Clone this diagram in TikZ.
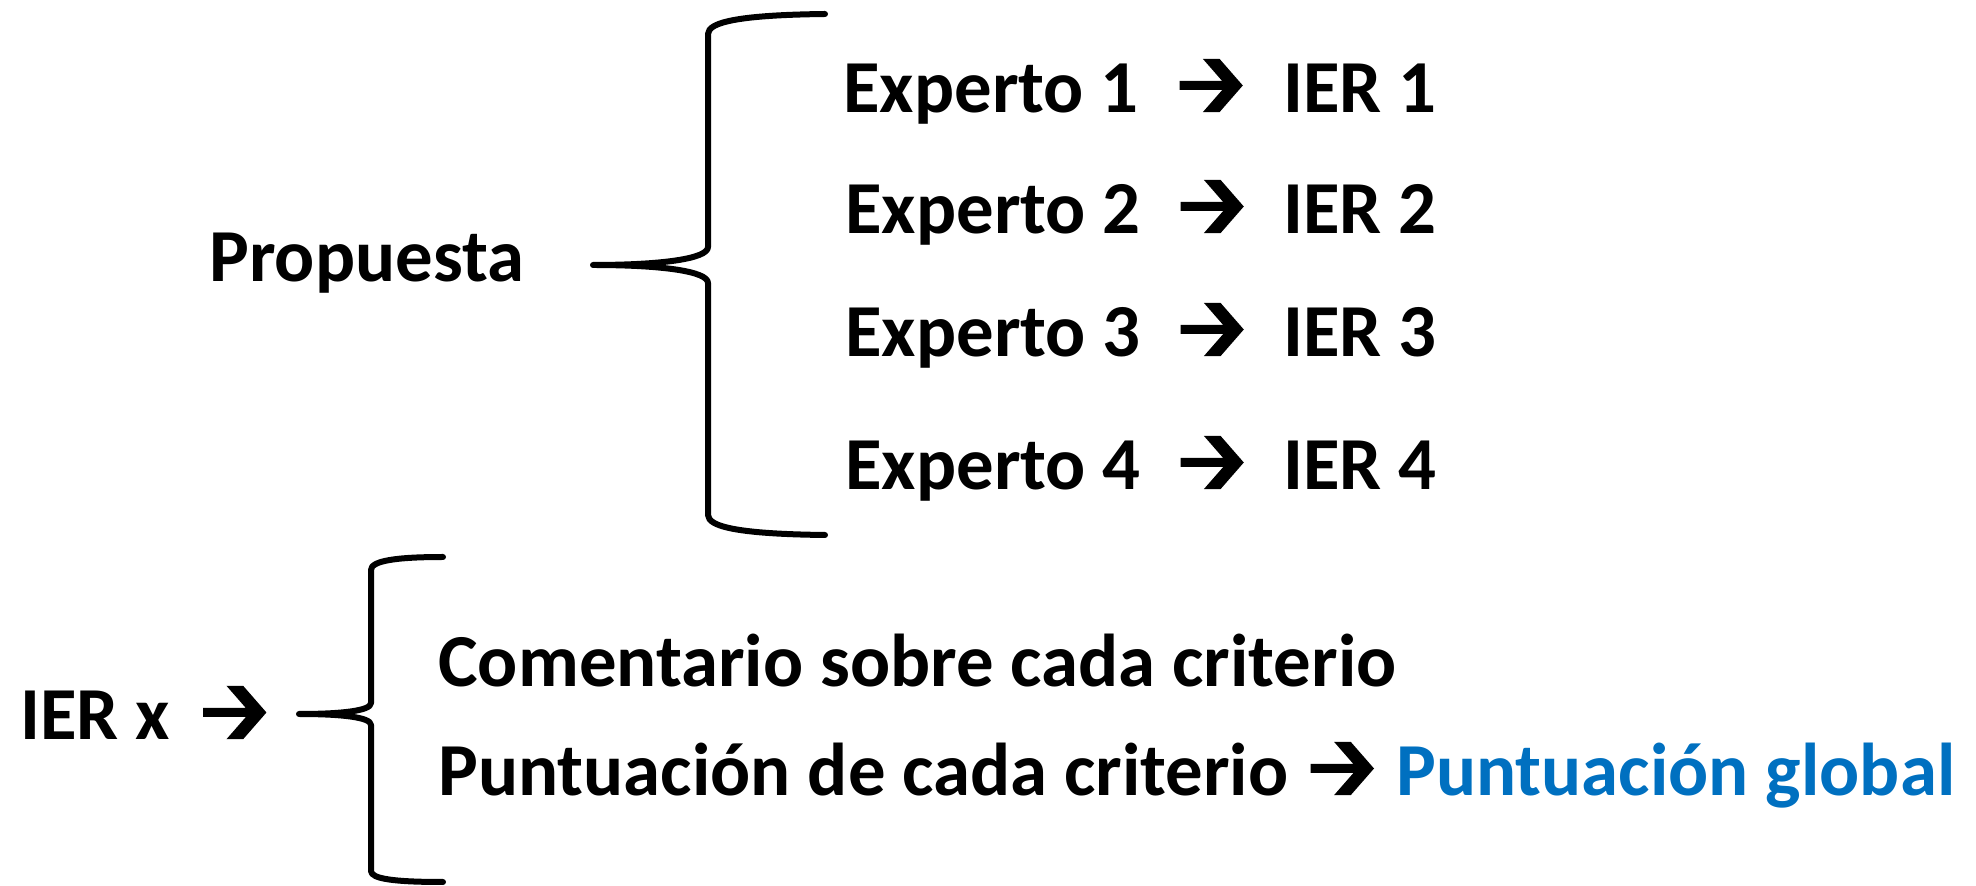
\documentclass[tikz,border=0pt]{standalone}
\usepackage{fontspec}
\setmainfont{Carlito}
\usetikzlibrary{calc}
\definecolor{gblue}{RGB}{0,112,192}
\tikzset{
  txt/.style={inner sep=0pt, anchor=base west, font=\bfseries\fontsize{37.4}{44}\selectfont},
  bracepath/.style={line width=3pt, line cap=round, line join=round},
  warrow/.pic={\fill (-31.65,4.5) -- (11.05,4.5) -- (-8.35,26.7) -- (8.35,26.7) -- (31.65,0) -- (8.35,-26.7) -- (-8.35,-26.7) -- (11.05,-4.5) -- (-31.65,-4.5) -- cycle;}
}
\begin{document}
\begin{tikzpicture}[x=0.5pt,y=-0.5pt]
\useasboundingbox (0,0) rectangle (1976,886);
% top group
\node[txt] (prop) at (209,282) {Propuesta};
\node[txt] (e1) at (843,113) {Experto 1};
\node[txt] (i1) at (1283,113) {IER 1};
\node[txt] (e2) at (845,234) {Experto 2};
\node[txt] (i2) at (1283,234) {IER 2};
\node[txt] (e3) at (845,357) {Experto 3};
\node[txt] (i3) at (1283,357) {IER 3};
\node[txt] (e4) at (845,490) {Experto 4};
\node[txt] (i4) at (1283,490) {IER 4};
\foreach \a/\b in {e1/i1,e2/i2,e3/i3,e4/i4}
  \pic at ($($(\a.base east)!0.5!(\b.base west)$)+(0,-27.5)$) {warrow};
% brace 1
\coordinate (b1tip) at (593,265);
\draw[bracepath] (825,14) .. controls (740,15) and (708,22) .. (708,34) -- (708,247)
  .. controls (708,259) and (660,265) .. (b1tip)
  .. controls (660,265) and (708,271) .. (708,283) -- (708,515)
  .. controls (708,527) and (740,534) .. (825,535);
% bottom group
\node[txt] (ierx) at (20,740) {IER x};
\coordinate (b2tip) at (299,714);
\pic at ($($(ierx.base east)!0.5!(b2tip|-ierx.base)$)+(0,-27.5)$) {warrow};
\draw[bracepath] (443,557) .. controls (395,557) and (371,561) .. (371,570) -- (371,703)
  .. controls (371,711) and (340,714) .. (b2tip)
  .. controls (340,714) and (371,717) .. (371,725) -- (371,871)
  .. controls (371,879) and (395,882) .. (443,882);
\node[txt] (com) at (438,687) {Comentario sobre cada criterio};
\node[txt] (punt) at (438,796) {Puntuación de cada criterio};
\node[txt, text=gblue] (glob) at (1396,796) {Puntuación global};
\pic at ($($(punt.base east)!0.5!(glob.base west)$)+(0,-27.5)$) {warrow};
\end{tikzpicture}
\end{document}
